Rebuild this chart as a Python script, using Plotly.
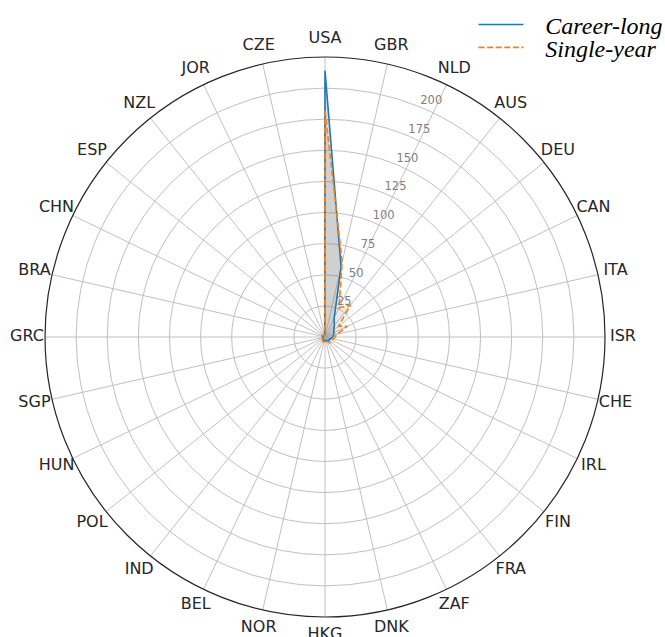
import plotly.graph_objects as go

countries = ["USA", "GBR", "NLD", "AUS", "DEU", "CAN", "ITA", "ISR", "CHE", "IRL",
             "FIN", "FRA", "ZAF", "DNK", "HKG", "NOR", "BEL", "IND", "POL", "HUN",
             "SGP", "GRC", "BRA", "CHN", "ESP", "NZL", "JOR", "CZE"]
career_long = [214, 58, 17, 12, 9, 8, 7, 6, 5, 4, 4, 4, 3, 3, 3, 3, 3, 2, 2, 2,
               2, 2, 2, 2, 2, 2, 1, 1]
single_year = [182, 62, 26, 33, 14, 20, 10, 8, 7, 6, 5, 6, 4, 4, 5, 4, 4, 3, 3, 2,
               2, 2, 2, 3, 2, 2, 1, 1]
radial_ticks = [25, 50, 75, 100, 125, 150, 175, 200]
radial_max = 225
radial_label_angle = 22.5  # degrees clockwise from the top

theta = countries + countries[:1]

fig = go.Figure()
# fills
fig.add_trace(go.Scatterpolar(
    r=career_long + career_long[:1], theta=theta, mode="lines",
    line=dict(width=0, color="#1f77b4"), showlegend=False, hoverinfo="skip",
    fill="toself", fillcolor="rgba(128,128,128,0.25)",
))
fig.add_trace(go.Scatterpolar(
    r=single_year + single_year[:1], theta=theta, mode="lines",
    line=dict(width=0, color="#ff7f0e"), showlegend=False, hoverinfo="skip",
    fill="toself", fillcolor="rgba(128,128,128,0.16)",
))
# outlines
fig.add_trace(go.Scatterpolar(
    r=career_long + career_long[:1], theta=theta, mode="lines",
    name="\u00a0\u00a0\u2009Career-long", line=dict(color="#1f77b4", width=1.6),
    legend="legend",
))
fig.add_trace(go.Scatterpolar(
    r=single_year + single_year[:1], theta=theta, mode="lines",
    name="\u00a0\u00a0\u2009Single-year",
    line=dict(color="#ff7f0e", width=1.6, dash="6px,2.6px"),
    legend="legend2",
))
# category labels on an outer, invisible polar layer (centred text like the reference)
fig.add_trace(go.Scatterpolar(
    r=[1] * len(countries), theta=countries, mode="text", subplot="polar2",
    text=countries, textposition="middle center", cliponaxis=False,
    textfont=dict(size=16, color="#262626", family="DejaVu Sans"),
    showlegend=False, hoverinfo="skip",
))
# radial tick labels along the 22.5 degree direction, horizontal text
fig.add_trace(go.Scatterpolar(
    r=radial_ticks, theta=[radial_label_angle] * len(radial_ticks), mode="text",
    subplot="polar3", text=[str(v) for v in radial_ticks], textposition="top right",
    cliponaxis=False,
    textfont=dict(size=11.5, color="#808080", family="DejaVu Sans"),
    showlegend=False, hoverinfo="skip",
))

legend_font = dict(family="Liberation Serif", size=24, style="italic", color="#000000")
main_domain = dict(x=[0.0677, 0.9098], y=[0.0314, 0.9105])

fig.update_layout(
    width=665, height=637,
    margin=dict(l=0, r=0, t=0, b=0, autoexpand=False),
    paper_bgcolor="white",
    font=dict(family="DejaVu Sans", color="#262626"),
    polar=dict(
        domain=main_domain,
        bgcolor="white",
        angularaxis=dict(
            rotation=90, direction="clockwise",
            categoryorder="array", categoryarray=countries,
            showline=True, linecolor="#262626", linewidth=1.2,
            gridcolor="#c0c0c0", gridwidth=0.9,
            ticks="", showticklabels=False,
        ),
        radialaxis=dict(
            range=[0, radial_max], angle=67.5,
            tickvals=radial_ticks, showline=False, ticks="", showticklabels=False,
            gridcolor="#c0c0c0", gridwidth=0.9,
        ),
    ),
    polar2=dict(
        domain=dict(x=[0.0406, 0.9368], y=[0.00314, 0.9388]),
        bgcolor="rgba(0,0,0,0)",
        angularaxis=dict(
            rotation=90, direction="clockwise",
            categoryorder="array", categoryarray=countries,
            showline=False, showgrid=False, ticks="", showticklabels=False,
        ),
        radialaxis=dict(range=[0, 1], visible=False),
    ),
    polar3=dict(
        domain=main_domain,
        bgcolor="rgba(0,0,0,0)",
        angularaxis=dict(
            type="linear", rotation=90, direction="clockwise",
            showline=False, showgrid=False, ticks="", showticklabels=False,
        ),
        radialaxis=dict(range=[0, radial_max], visible=False),
    ),
    showlegend=True,
    legend=dict(
        x=0.712, xanchor="left", y=0.961, yanchor="middle",
        bgcolor="rgba(0,0,0,0)", font=legend_font, itemwidth=45,
    ),
    legend2=dict(
        x=0.712, xanchor="left", y=0.925, yanchor="middle",
        bgcolor="rgba(0,0,0,0)", font=legend_font, itemwidth=45,
    ),
)

fig.write_html("out.html")
